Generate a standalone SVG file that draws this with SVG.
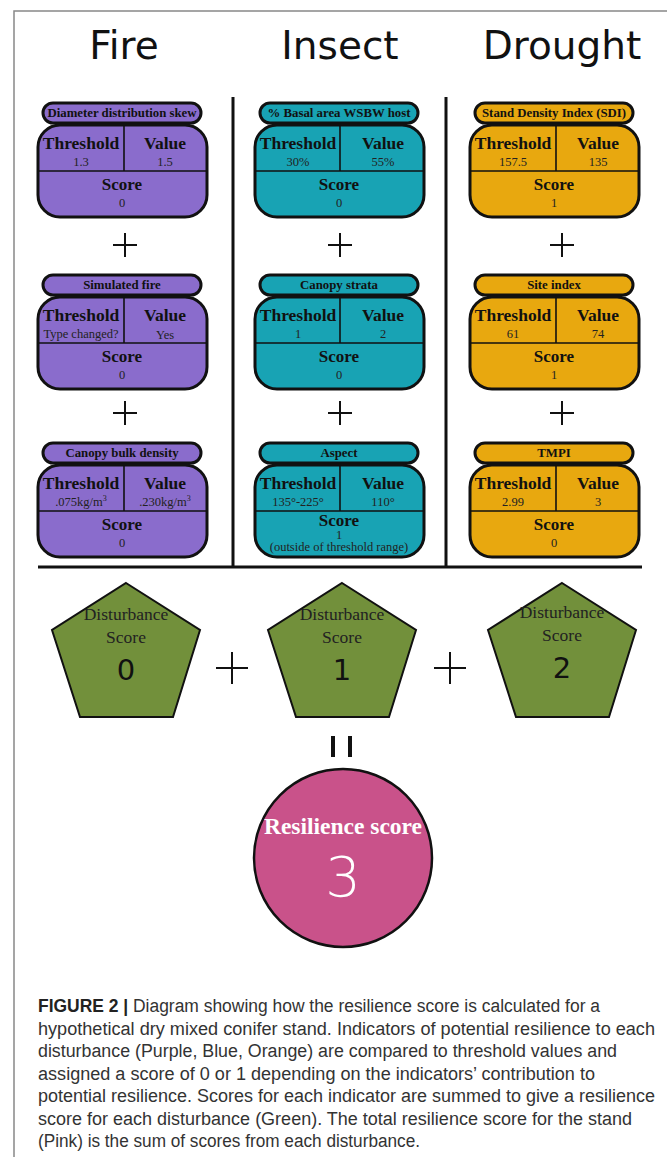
<svg xmlns="http://www.w3.org/2000/svg" width="667" height="1157" viewBox="0 0 667 1157">
<style>
.hdr{font-family:"DejaVu Sans",Verdana,sans-serif;font-size:39px;fill:#111;text-anchor:middle}
.pill{stroke:#111;stroke-width:3}
.body{stroke:#111;stroke-width:3}
.div{stroke:#111;stroke-width:1.6}
.fire{fill:#8a6ccc}
.ins{fill:#18a3b4}
.dro{fill:#e8a80f}
.tt{font-family:"Liberation Serif","Times New Roman",serif;font-weight:bold;font-size:12.8px;fill:#111;text-anchor:middle}
.th{font-family:"Liberation Serif","Times New Roman",serif;font-weight:bold;font-size:17.5px;fill:#111;text-anchor:middle}
.tv{font-family:"Liberation Serif","Times New Roman",serif;font-size:12.5px;fill:#222;text-anchor:middle}
.sc{font-family:"Liberation Serif","Times New Roman",serif;font-weight:bold;font-size:17px;fill:#111;text-anchor:middle}
.plus{stroke:#111;stroke-width:2;fill:none}
.line{stroke:#111;stroke-width:3;fill:none}
.pent{fill:#72903b;stroke:#111;stroke-width:2}
.pt{font-family:"Liberation Serif","Times New Roman",serif;font-size:17.5px;fill:#222;text-anchor:middle}
.pn{font-family:"DejaVu Sans",Verdana,sans-serif;font-size:29px;fill:#111;text-anchor:middle}
.cap{font-family:"Liberation Sans",Arial,sans-serif;font-size:18px;fill:#333}
</style>
<defs>
<g id="plusSign"><path class="plus" d="M-12,0H12M0,-12V12"/></g>
<polygon id="pentShape" points="126,583 200,630 173,717 80,717 52,630"/>
</defs>

<!-- frame -->
<path d="M14,1157V11H667" fill="none" stroke="#888" stroke-width="1.5"/>

<!-- headers -->
<g id="headers">
<text class="hdr" x="124" y="59">Fire</text>
<text class="hdr" x="340" y="59">Insect</text>
<text class="hdr" x="562" y="59">Drought</text>
</g>

<!-- dividers and connectors -->
<g id="connectors">
<path class="line" d="M233,97V567M446,97V567M38,567H642"/>
<use href="#plusSign" x="125" y="245"/>
<use href="#plusSign" x="340" y="245"/>
<use href="#plusSign" x="562" y="245"/>
<use href="#plusSign" x="125" y="413"/>
<use href="#plusSign" x="340" y="413"/>
<use href="#plusSign" x="562" y="413"/>
<path class="plus" d="M216,668H248M232,652V684M434,668H466M450,652V684"/>
<path d="M333,736V757M350,736V757" stroke="#111" stroke-width="4"/>
</g>

<!-- FIRE cards -->
<g id="fire1">
<rect class="pill fire" x="43" y="103" width="158" height="20" rx="10"/>
<rect class="body fire" x="38" y="125" width="169" height="92" rx="22"/>
<path class="div" d="M124,125V171M38,171H207"/>
<text class="tt" x="122" y="117">Diameter distribution skew</text>
<text class="th" x="81" y="149">Threshold</text>
<text class="th" x="165" y="149">Value</text>
<text class="tv" x="81" y="166">1.3</text>
<text class="tv" x="165" y="166">1.5</text>
<text class="sc" x="122" y="190">Score</text>
<text class="tv" x="122" y="207">0</text>
</g>
<g id="fire2">
<rect class="pill fire" x="43" y="275" width="158" height="20" rx="10"/>
<rect class="body fire" x="38" y="297" width="169" height="92" rx="22"/>
<path class="div" d="M124,297V343M38,343H207"/>
<text class="tt" x="122" y="289">Simulated fire</text>
<text class="th" x="81" y="321">Threshold</text>
<text class="th" x="165" y="321">Value</text>
<text class="tv" x="81" y="338">Type changed?</text>
<text class="tv" x="165" y="339">Yes</text>
<text class="sc" x="122" y="362">Score</text>
<text class="tv" x="122" y="379">0</text>
</g>
<g id="fire3">
<rect class="pill fire" x="43" y="443" width="158" height="20" rx="10"/>
<rect class="body fire" x="38" y="465" width="169" height="92" rx="22"/>
<path class="div" d="M124,465V511M38,511H207"/>
<text class="tt" x="122" y="457">Canopy bulk density</text>
<text class="th" x="81" y="489">Threshold</text>
<text class="th" x="165" y="489">Value</text>
<text class="tv" x="81" y="506">.075kg/m<tspan font-size="8" dy="-5">3</tspan></text>
<text class="tv" x="165" y="506">.230kg/m<tspan font-size="8" dy="-5">3</tspan></text>
<text class="sc" x="122" y="530">Score</text>
<text class="tv" x="122" y="547">0</text>
</g>

<!-- INSECT cards -->
<g id="insect1">
<rect class="pill ins" x="260" y="103" width="158" height="20" rx="10"/>
<rect class="body ins" x="255" y="125" width="169" height="92" rx="22"/>
<path class="div" d="M340,125V171M255,171H424"/>
<text class="tt" x="339" y="117">% Basal area WSBW host</text>
<text class="th" x="298" y="149">Threshold</text>
<text class="th" x="383" y="149">Value</text>
<text class="tv" x="298" y="166">30%</text>
<text class="tv" x="383" y="166">55%</text>
<text class="sc" x="339" y="190">Score</text>
<text class="tv" x="339" y="207">0</text>
</g>
<g id="insect2">
<rect class="pill ins" x="260" y="275" width="158" height="20" rx="10"/>
<rect class="body ins" x="255" y="297" width="169" height="92" rx="22"/>
<path class="div" d="M340,297V343M255,343H424"/>
<text class="tt" x="339" y="289">Canopy strata</text>
<text class="th" x="298" y="321">Threshold</text>
<text class="th" x="383" y="321">Value</text>
<text class="tv" x="298" y="338">1</text>
<text class="tv" x="383" y="338">2</text>
<text class="sc" x="339" y="362">Score</text>
<text class="tv" x="339" y="379">0</text>
</g>
<g id="insect3">
<rect class="pill ins" x="260" y="443" width="158" height="20" rx="10"/>
<rect class="body ins" x="255" y="465" width="169" height="92" rx="22"/>
<path class="div" d="M340,465V511M255,511H424"/>
<text class="tt" x="339" y="457">Aspect</text>
<text class="th" x="298" y="489">Threshold</text>
<text class="th" x="383" y="489">Value</text>
<text class="tv" x="298" y="506">135°-225°</text>
<text class="tv" x="383" y="506">110°</text>
<text class="sc" x="339" y="526">Score</text>
<text class="tv" x="339" y="539" font-size="11">1</text>
<text class="tv" x="339" y="551" font-size="11.5">(outside of threshold range)</text>
</g>

<!-- DROUGHT cards -->
<g id="drought1">
<rect class="pill dro" x="475" y="103" width="158" height="20" rx="10"/>
<rect class="body dro" x="470" y="125" width="169" height="92" rx="22"/>
<path class="div" d="M556,125V171M470,171H639"/>
<text class="tt" x="554" y="117">Stand Density Index (SDI)</text>
<text class="th" x="513" y="149">Threshold</text>
<text class="th" x="598" y="149">Value</text>
<text class="tv" x="513" y="166">157.5</text>
<text class="tv" x="598" y="166">135</text>
<text class="sc" x="554" y="190">Score</text>
<text class="tv" x="554" y="207">1</text>
</g>
<g id="drought2">
<rect class="pill dro" x="475" y="275" width="158" height="20" rx="10"/>
<rect class="body dro" x="470" y="297" width="169" height="92" rx="22"/>
<path class="div" d="M556,297V343M470,343H639"/>
<text class="tt" x="554" y="289">Site index</text>
<text class="th" x="513" y="321">Threshold</text>
<text class="th" x="598" y="321">Value</text>
<text class="tv" x="513" y="338">61</text>
<text class="tv" x="598" y="338">74</text>
<text class="sc" x="554" y="362">Score</text>
<text class="tv" x="554" y="379">1</text>
</g>
<g id="drought3">
<rect class="pill dro" x="475" y="443" width="158" height="20" rx="10"/>
<rect class="body dro" x="470" y="465" width="169" height="92" rx="22"/>
<path class="div" d="M556,465V511M470,511H639"/>
<text class="tt" x="554" y="457">TMPI</text>
<text class="th" x="513" y="489">Threshold</text>
<text class="th" x="598" y="489">Value</text>
<text class="tv" x="513" y="506">2.99</text>
<text class="tv" x="598" y="506">3</text>
<text class="sc" x="554" y="530">Score</text>
<text class="tv" x="554" y="547">0</text>
</g>

<!-- Disturbance pentagons -->
<g id="pentFire">
<use href="#pentShape" class="pent"/>
<text class="pt" x="126" y="620">Disturbance</text>
<text class="pt" x="126" y="643">Score</text>
<text class="pn" x="126" y="680">0</text>
</g>
<g id="pentInsect">
<use href="#pentShape" class="pent" x="216"/>
<text class="pt" x="342" y="620">Disturbance</text>
<text class="pt" x="342" y="643">Score</text>
<text class="pn" x="342" y="680">1</text>
</g>
<g id="pentDrought">
<use href="#pentShape" class="pent" x="436"/>
<text class="pt" x="562" y="618">Disturbance</text>
<text class="pt" x="562" y="641">Score</text>
<text class="pn" x="562" y="678">2</text>
</g>

<!-- Resilience circle -->
<g id="resilience">
<circle cx="343" cy="858" r="89" fill="#c9528a" stroke="#111" stroke-width="2.5"/>
<text x="343" y="834" text-anchor="middle" font-family="Liberation Serif, Times New Roman, serif" font-weight="bold" font-size="23.5" fill="#fff">Resilience score</text>
<text x="343" y="896" text-anchor="middle" font-family="DejaVu Sans, Verdana, sans-serif" font-weight="300" font-size="56" fill="#fff">3</text>
</g>

<!-- caption -->
<g id="caption">
<text class="cap" x="38" y="1012" textLength="562" lengthAdjust="spacingAndGlyphs"><tspan font-weight="bold" fill="#222">FIGURE 2 |</tspan> Diagram showing how the resilience score is calculated for a</text>
<text class="cap" x="38" y="1034.5" textLength="617" lengthAdjust="spacingAndGlyphs">hypothetical dry mixed conifer stand. Indicators of potential resilience to each</text>
<text class="cap" x="38" y="1057" textLength="579" lengthAdjust="spacingAndGlyphs">disturbance (Purple, Blue, Orange) are compared to threshold values and</text>
<text class="cap" x="38" y="1079.5" textLength="557" lengthAdjust="spacingAndGlyphs">assigned a score of 0 or 1 depending on the indicators’ contribution to</text>
<text class="cap" x="38" y="1102" textLength="617" lengthAdjust="spacingAndGlyphs">potential resilience. Scores for each indicator are summed to give a resilience</text>
<text class="cap" x="38" y="1124.5" textLength="594" lengthAdjust="spacingAndGlyphs">score for each disturbance (Green). The total resilience score for the stand</text>
<text class="cap" x="38" y="1147" textLength="382" lengthAdjust="spacingAndGlyphs">(Pink) is the sum of scores from each disturbance.</text>
</g>
</svg>
